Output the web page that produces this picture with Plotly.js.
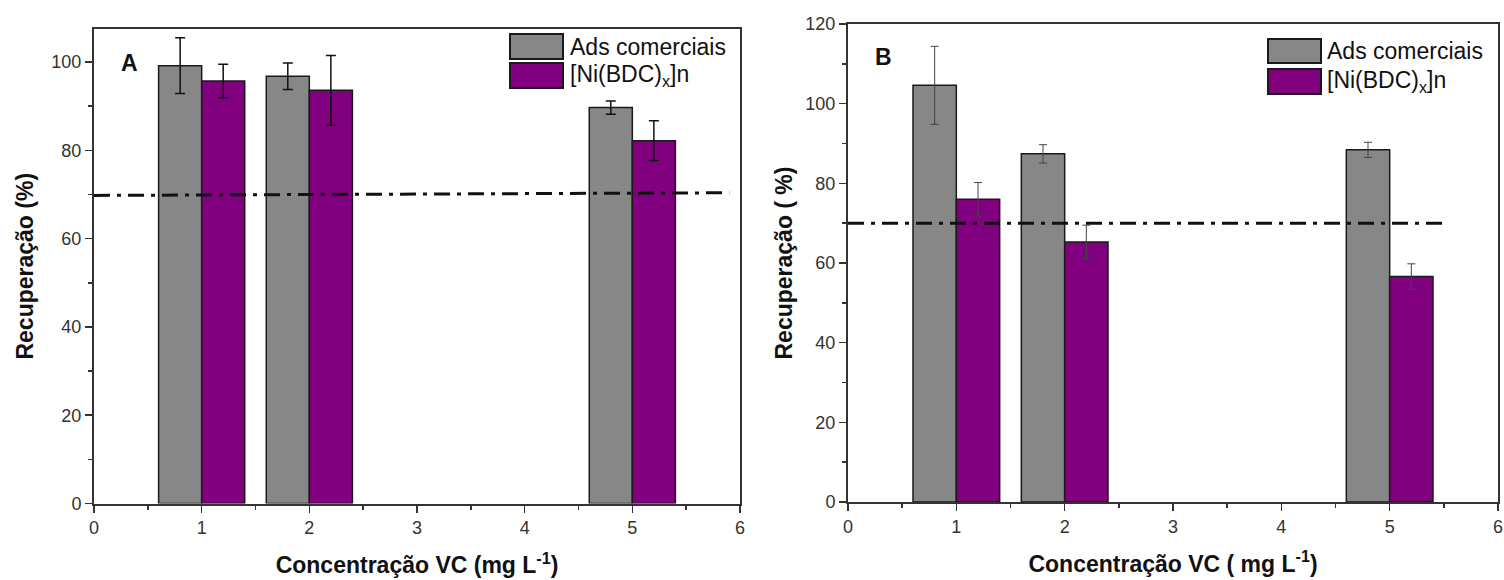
<!DOCTYPE html>
<html><head><meta charset="utf-8">
<script src="https://cdn.plot.ly/plotly-3.0.1.min.js"></script>
<style>html,body{margin:0;padding:0;background:#fff}</style>
</head><body><div id="chart" style="width:1504px;height:580px"></div>
<script>
// ---- data ----
const concentracoes = [1, 2, 5];
const seriesNames = ['Ads comerciais', '[Ni(BDC)<sub>x</sub>]n'];
// Panel A
const adsA = [99.2, 96.8, 89.7];
const adsAErr = [6.3, 3.0, 1.5];
const niA = [95.7, 93.6, 82.2];
const niAErr = [3.8, 7.9, 4.5];
const limiteAx = [0, 5.9];
const limiteAy = [69.8, 70.4];
// Panel B
const adsB = [104.6, 87.4, 88.4];
const adsBErr = [9.8, 2.3, 1.9];
const niB = [76.0, 65.3, 56.6];
const niBErr = [4.2, 4.2, 3.2];
const limiteBx = [0, 5.5];
const limiteBy = [70, 70];
const xTicks = [0, 1, 2, 3, 4, 5, 6];

// ---- style ----
const W = 1504, H = 580;
const px = v => v / W, py = v => 1 - v / H;
const FONT = 'Liberation Sans, Arial, sans-serif';
const GRAY = '#878787', PURPLE = '#800080', AX = '#333333';

function barTrace(y, err, color, offset, xa, ya, ecol, eth, ew) {
  return {type: 'bar', x: concentracoes, y: y, offset: offset, width: 0.4,
    marker: {color: color, line: {color: '#1a1a1a', width: 1.5}},
    error_y: {type: 'data', array: err, visible: true, color: ecol, thickness: eth, width: ew},
    xaxis: xa, yaxis: ya, showlegend: false, hoverinfo: 'skip'};
}
function lineTrace(x, y, xa, ya) {
  return {type: 'scatter', mode: 'lines', x: x, y: y, xaxis: xa, yaxis: ya,
    line: {color: '#111', width: 3, dash: '16px,7px,4px,7px'}, showlegend: false, hoverinfo: 'skip'};
}

const traces = [
  barTrace(adsA, adsAErr, GRAY, -0.4, 'x', 'y', '#111', 1.5, 5),
  barTrace(niA, niAErr, PURPLE, 0, 'x', 'y', '#111', 1.5, 5),
  lineTrace(limiteAx, limiteAy, 'x', 'y'),
  barTrace(adsB, adsBErr, GRAY, -0.4, 'x2', 'y2', '#444', 1, 4),
  barTrace(niB, niBErr, PURPLE, 0, 'x2', 'y2', '#444', 1, 4),
  lineTrace(limiteBx, limiteBy, 'x2', 'y2')
];

function xAxis(dom, anchor, title) {
  return {domain: dom, anchor: anchor, range: [0, 6], tickvals: xTicks, ticktext: xTicks.map(String),
    ticks: 'outside', ticklen: 7, tickwidth: 1.5, tickcolor: AX,
    minor: {dtick: 0.5, tick0: 0, ticks: 'outside', ticklen: 4, tickwidth: 1.5, tickcolor: AX},
    showline: true, linewidth: 2, linecolor: AX, mirror: true, showgrid: false, zeroline: false,
    tickfont: {family: FONT, size: 18, color: '#333'},
    title: {text: title, font: {family: FONT, size: 23, color: '#111', weight: 'bold'}, standoff: 20},
    fixedrange: true};
}
function yAxis(dom, anchor, range, dt, title, standoff) {
  return {domain: dom, anchor: anchor, range: range, dtick: dt, tick0: 0,
    ticks: 'outside', ticklen: 7, tickwidth: 1.5, tickcolor: AX,
    minor: {dtick: dt / 2, ticks: 'outside', ticklen: 4, tickwidth: 1.5, tickcolor: AX},
    showline: true, linewidth: 2, linecolor: AX, mirror: true, showgrid: false, zeroline: false,
    tickfont: {family: FONT, size: 18, color: '#333'},
    title: {text: title, font: {family: FONT, size: 23, color: '#111', weight: 'bold'}, standoff: standoff},
    fixedrange: true};
}

function legendShapes(x0, x1, rows) {
  const cols = [GRAY, PURPLE];
  return rows.map((r, i) => ({type: 'rect', xref: 'paper', yref: 'paper',
    x0: px(x0), x1: px(x1), y0: py(r[1]), y1: py(r[0]),
    fillcolor: cols[i], line: {color: '#1a1a1a', width: 2}}));
}
function legendText(x, ys) {
  return ys.map((y, i) => ({xref: 'paper', yref: 'paper', x: px(x), y: py(y),
    xanchor: 'left', yanchor: 'middle', showarrow: false, text: seriesNames[i],
    font: {family: FONT, size: 23, color: '#111'}}));
}

const layout = {
  width: W, height: H, margin: {l: 0, r: 0, t: 0, b: 0},
  paper_bgcolor: '#fff', plot_bgcolor: '#fff', barmode: 'overlay', showlegend: false,
  xaxis: xAxis([px(94), px(740)], 'y', 'Concentração VC (mg L<sup>-1</sup>)'),
  yaxis: yAxis([py(503.5), py(29)], 'x', [0, 107.5], 20, 'Recuperação (%)', 11),
  xaxis2: xAxis([px(848), px(1498)], 'y2', 'Concentração VC ( mg L<sup>-1</sup>)'),
  yaxis2: yAxis([py(502), py(24)], 'x2', [0, 120], 20, 'Recuperação ( %)', 6),
  shapes: [].concat(
    legendShapes(510, 563, [[34, 59], [63, 88]]),
    legendShapes(1268, 1321, [[39, 63], [69, 94]])
  ),
  annotations: [].concat(
    legendText(568, [46.5, 75.5]),
    legendText(1325, [51, 81.5]),
    [{xref: 'paper', yref: 'paper', x: px(129), y: py(63), xanchor: 'center', yanchor: 'middle',
      text: '<b>A</b>', showarrow: false, font: {family: FONT, size: 23, color: '#111'}},
     {xref: 'paper', yref: 'paper', x: px(883), y: py(57), xanchor: 'center', yanchor: 'middle',
      text: '<b>B</b>', showarrow: false, font: {family: FONT, size: 23, color: '#111'}}]
  )
};

Plotly.newPlot('chart', traces, layout, {displayModeBar: false, staticPlot: true});
</script>
</body></html>
